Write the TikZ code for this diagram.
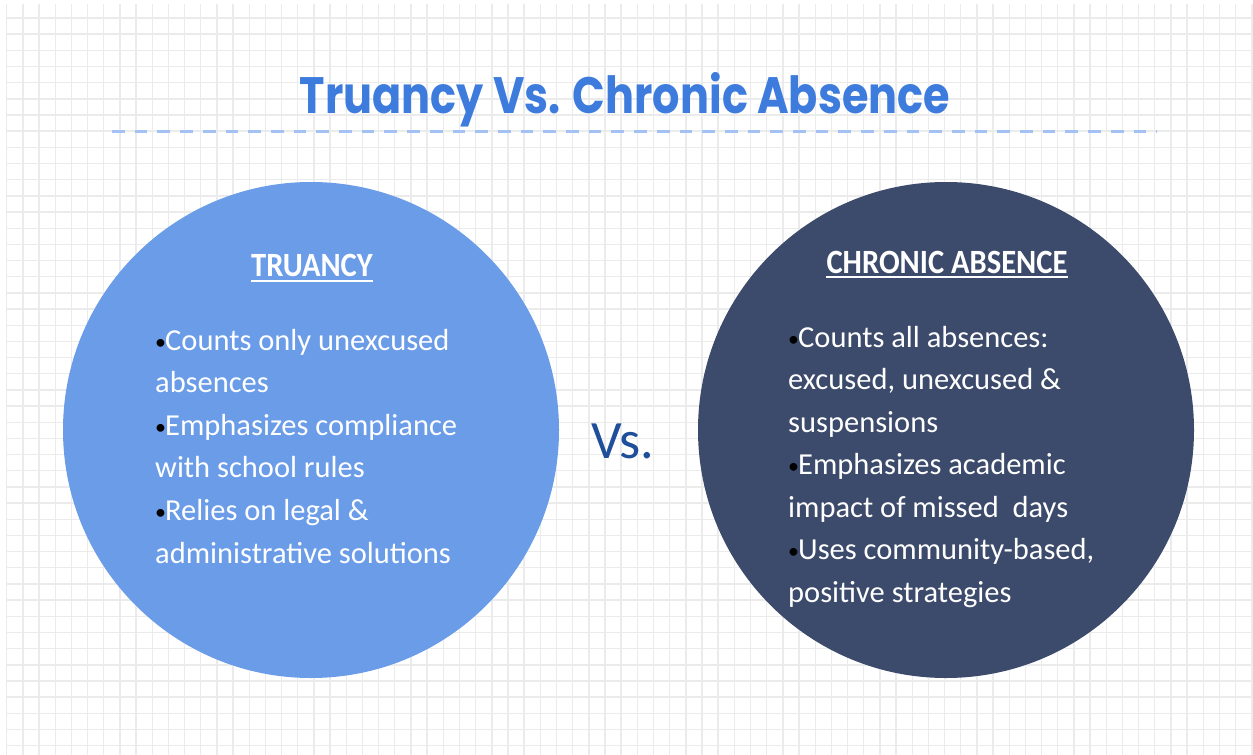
\documentclass[tikz,border=0pt]{standalone}
\usepackage{fontspec}
\setmainfont{Carlito}
\newfontfamily\titlefont{Poppins}
\definecolor{gridc}{HTML}{EBEBEB}
\definecolor{titlec}{HTML}{3D7CDD}
\definecolor{dashc}{HTML}{A3C1F3}
\definecolor{leftc}{HTML}{6A9CE8}
\definecolor{rightc}{HTML}{3C4A6B}
\definecolor{vsc}{HTML}{1F4E9A}
\newcommand{\bul}{{\color{black}\fontsize{22}{22}\selectfont\makebox[10pt][l]{\raisebox{1pt}{•}}}}
\tikzset{
  gridline/.style={draw=gridc, line width=1.4pt},
  titletext/.style={inner sep=0, anchor=base, text=titlec, font=\titlefont\bfseries},
  dashline/.style={draw=dashc, line width=3pt, dash pattern=on 12.7pt off 10pt},
  bigcircle/.style={circle, inner sep=0, minimum size=496pt},
  body/.style={inner sep=0, anchor=base west, text=white, font=\fontsize{30.5}{36}\selectfont},
  heading/.style={inner sep=0, anchor=base, text=white, font=\bfseries\fontsize{34}{40}\selectfont},
  uline/.style={draw=white, line width=2pt},
  vstext/.style={inner sep=0, anchor=base, text=vsc, font=\fontsize{54}{60}\selectfont}
}
\begin{document}
\begin{tikzpicture}[x=1pt,y=-1pt]
\useasboundingbox (0,0) rectangle (1253,755);
\fill[white] (0,0) rectangle (1253,755);
\begin{scope}
\clip (6,4) rectangle (1253,755);
\foreach \i in {0,...,77} \draw[gridline] ({6.7+16.17*\i},0) -- ({6.7+16.17*\i},755);
\foreach \j in {0,...,46} \draw[gridline] (0,{1.83+16.17*\j}) -- (1253,{1.83+16.17*\j});
\end{scope}

\node[titletext] (title) at (625,113) {\resizebox{650pt}{41pt}{Truancy Vs. Chronic Absence}};
\coordinate (dl) at (112,131);
\coordinate (dr) at (1157,131);
\draw[dashline] (dl) -- (dr);

\node[bigcircle, fill=leftc] (c1) at (311,430) {};
\node[bigcircle, fill=rightc] (c2) at (946,430) {};

\node[heading] (h1) at (312,276.7) {\scalebox{0.9}[1]{TRUANCY}};
\draw[uline] ([yshift=-4pt]h1.base west) -- ([yshift=-4pt]h1.base east);
\node[heading] (h2) at (947,273) {\scalebox{0.9}[1]{CHRONIC ABSENCE}};
\draw[uline] ([yshift=-4pt]h2.base west) -- ([yshift=-4pt]h2.base east);

\node[body] (l1) at (155,350) {\bul Counts only unexcused};
\node[body] (l2) at (155,392.6) {absences};
\node[body] (l3) at (155,435.2) {\bul Emphasizes compliance};
\node[body] (l4) at (155,477.8) {with school rules};
\node[body] (l5) at (155,520.4) {\bul Relies on legal \&};
\node[body] (l6) at (155,563) {administrative solutions};

\node[body] (r1) at (788,347) {\bul Counts all absences:};
\node[body] (r2) at (788,389.5) {excused, unexcused \&};
\node[body] (r3) at (788,432) {suspensions};
\node[body] (r4) at (788,474.5) {\bul Emphasizes academic};
\node[body] (r5) at (788,517) {impact of missed\ \ days};
\node[body] (r6) at (788,559.5) {\bul Uses community-based,};
\node[body] (r7) at (788,602) {positive strategies};

\node[vstext] (vs) at (623,458) {Vs.};
\end{tikzpicture}
\end{document}
